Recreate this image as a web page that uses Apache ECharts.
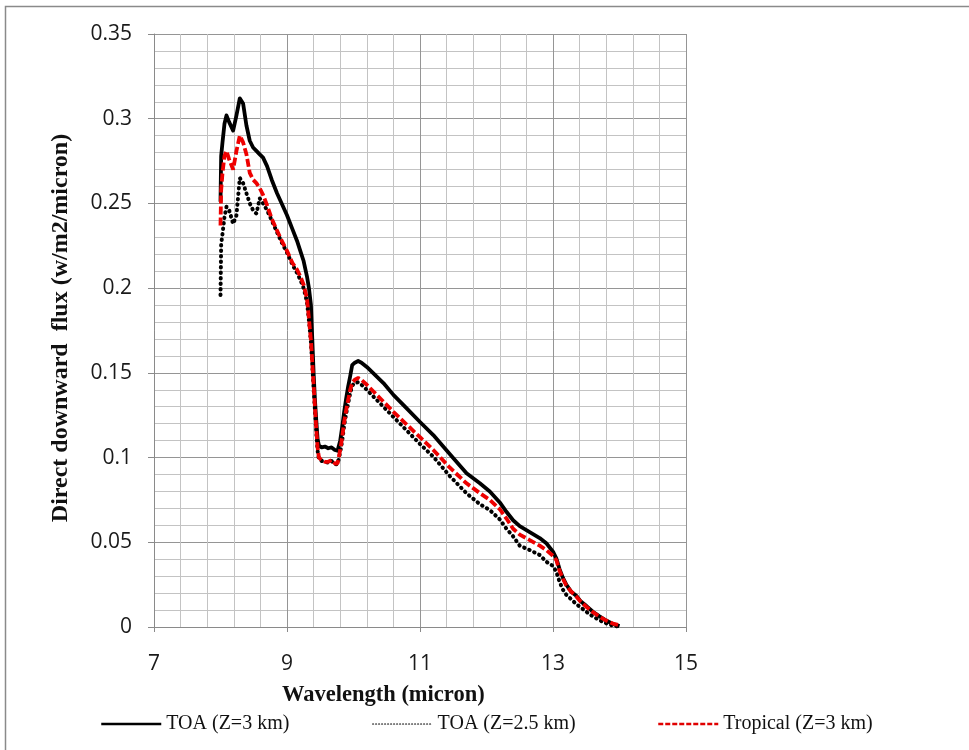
<!DOCTYPE html>
<html>
<head>
<meta charset="utf-8">
<script src="https://cdn.jsdelivr.net/npm/echarts@6/dist/echarts.min.js"></script>
<style>
  html, body { margin: 0; padding: 0; background: #ffffff; }
  #chart { width: 969px; height: 750px; }
</style>
</head>
<body>
<div id="chart"></div>
<script>
// Wavelength grid (micron)
const wavelength = [
  8.00, 8.01, 8.03, 8.06, 8.09, 8.13, 8.19, 8.24, 8.29, 8.34,
  8.39, 8.44, 8.49, 8.54, 8.59, 8.64, 8.70, 8.77, 8.85, 8.92,
  9.00, 9.08, 9.15, 9.20, 9.25, 9.30, 9.33, 9.36, 9.38, 9.40,
  9.42, 9.44, 9.46, 9.48, 9.52, 9.57, 9.62, 9.67, 9.72, 9.76,
  9.80, 9.83, 9.86, 9.89, 9.92, 9.95, 9.98, 10.02, 10.07, 10.12,
  10.20, 10.30, 10.45, 10.60, 10.80, 11.00, 11.20, 11.45, 11.70, 11.90,
  12.05, 12.20, 12.30, 12.40, 12.50, 12.65, 12.80, 12.90, 13.00, 13.05,
  13.10, 13.15, 13.20, 13.27, 13.35, 13.42, 13.50, 13.60, 13.70, 13.80,
  13.90, 14.00
];

// Direct downward flux (w/m2/micron), TOA, Z = 3 km
const fluxToa3 = [
  0.251, 0.278, 0.286, 0.297, 0.302, 0.298, 0.293, 0.302, 0.312, 0.309,
  0.296, 0.287, 0.283, 0.281, 0.279, 0.277, 0.272, 0.264, 0.256, 0.250,
  0.243, 0.235, 0.228, 0.222, 0.216, 0.207, 0.200, 0.190, 0.170, 0.150,
  0.134, 0.122, 0.111, 0.107, 0.106, 0.1065, 0.1055, 0.106, 0.1045, 0.104,
  0.110, 0.118, 0.127, 0.135, 0.142, 0.148, 0.1545, 0.156, 0.157, 0.156,
  0.1535, 0.1497, 0.144, 0.137, 0.129, 0.121, 0.1133, 0.102, 0.0907, 0.0848,
  0.080, 0.0735, 0.068, 0.063, 0.0595, 0.056, 0.0525, 0.0494, 0.0445, 0.0405,
  0.034, 0.029, 0.025, 0.021, 0.0185, 0.015, 0.0125, 0.009, 0.0063, 0.0038,
  0.0018, 0.0005
];

// TOA, Z = 2.5 km
const fluxToa25 = [
  0.196, 0.226, 0.232, 0.242, 0.248, 0.246, 0.238, 0.243, 0.265, 0.262,
  0.256, 0.250, 0.246, 0.244, 0.253, 0.250, 0.246, 0.240, 0.233, 0.227,
  0.221, 0.214, 0.209, 0.205, 0.200, 0.192, 0.181, 0.168, 0.155, 0.141,
  0.128, 0.115, 0.104, 0.099, 0.098, 0.0975, 0.097, 0.098, 0.096, 0.096,
  0.103, 0.110, 0.119, 0.126, 0.132, 0.138, 0.1425, 0.144, 0.1445, 0.143,
  0.140, 0.136, 0.130, 0.124, 0.116, 0.108, 0.1005, 0.089, 0.0789, 0.0725,
  0.069, 0.0635, 0.058, 0.0535, 0.048, 0.0454, 0.0425, 0.0385, 0.036, 0.0325,
  0.0265, 0.022, 0.019, 0.0165, 0.0135, 0.0115, 0.009, 0.0062, 0.004, 0.0022,
  0.0008, 0.0002
];

// Tropical, Z = 3 km
const fluxTropical3 = [
  0.237, 0.258, 0.268, 0.278, 0.281, 0.276, 0.270, 0.281, 0.290, 0.286,
  0.279, 0.268, 0.264, 0.262, 0.259, 0.255, 0.249, 0.241, 0.234, 0.228,
  0.222, 0.215, 0.211, 0.207, 0.202, 0.194, 0.182, 0.169, 0.156, 0.143,
  0.130, 0.117, 0.106, 0.100, 0.0985, 0.0975, 0.0975, 0.0985, 0.0965, 0.0965,
  0.1045, 0.112, 0.121, 0.128, 0.134, 0.140, 0.144, 0.146, 0.147, 0.1458,
  0.143, 0.139, 0.133, 0.127, 0.1195, 0.112, 0.1045, 0.094, 0.0848, 0.079,
  0.075, 0.0695, 0.064, 0.058, 0.0545, 0.0513, 0.048, 0.0454, 0.042, 0.0395,
  0.033, 0.0285, 0.0245, 0.021, 0.018, 0.0148, 0.012, 0.0088, 0.0061, 0.0038,
  0.002, 0.001
];

const seriesNames = ['TOA (Z=3 km)', 'TOA (Z=2.5 km)', 'Tropical (Z=3 km)'];
const xAxisTitle = 'Wavelength (micron)';
const yAxisTitle = 'Direct downward  flux (w/m2/micron)';

const pairs = (ys) => wavelength.map((w, i) => [w, ys[i]]);

const tickFont = { fontFamily: 'Open Sans', fontSize: 21, color: '#1a1a1a' };
const serif = 'Liberation Serif';

const chart = echarts.init(document.getElementById('chart'), null, { renderer: 'canvas' });

// One legend block per series so each entry sits at its own spot along the bottom;
// the marker symbol is made transparent so only the line sample shows.
function legendAt(left, name, lineStyle) {
  return {
    left: left, top: 714,
    orient: 'horizontal',
    padding: 0,
    data: [{ name: name }],
    itemWidth: 60, itemHeight: 14,
    selectedMode: false,
    lineStyle: lineStyle,
    itemStyle: { color: 'rgba(0,0,0,0)', borderColor: 'rgba(0,0,0,0)', borderWidth: 0, opacity: 0 },
    textStyle: { fontFamily: serif, fontSize: 20, color: '#111' }
  };
}

chart.setOption({
  animation: false,
  backgroundColor: '#ffffff',
  grid: { left: 154, top: 34, width: 532, height: 593, containLabel: false },
  xAxis: {
    type: 'value', min: 7, max: 15, interval: 2,
    axisLine: { show: true, lineStyle: { color: '#8a8a8a', width: 1 } },
    axisTick: { show: true, length: 5, lineStyle: { color: '#8a8a8a' } },
    axisLabel: Object.assign({ margin: 27 }, tickFont),
    splitLine: { show: true, lineStyle: { color: '#959595', width: 1 } },
    minorTick: { show: false, splitNumber: 5 },
    minorSplitLine: { show: true, lineStyle: { color: '#c3c3c3', width: 1 } }
  },
  yAxis: {
    type: 'value', min: 0, max: 0.35, interval: 0.05,
    axisLine: { show: true, lineStyle: { color: '#8a8a8a', width: 1 } },
    axisTick: { show: true, length: 6, lineStyle: { color: '#8a8a8a' } },
    axisLabel: Object.assign({ margin: 22 }, tickFont),
    splitLine: { show: true, lineStyle: { color: '#959595', width: 1 } },
    minorTick: { show: false, splitNumber: 5 },
    minorSplitLine: { show: true, lineStyle: { color: '#c3c3c3', width: 1 } }
  },
  legend: [
    legendAt(100, seriesNames[0], { color: '#000000', width: 2.5, type: 'solid' }),
    legendAt(372, seriesNames[1], { color: '#000000', width: 1.2, type: [1, 2] }),
    legendAt(657, seriesNames[2], { color: '#e00000', width: 2.5, type: [5, 2] })
  ],
  series: [
    {
      name: seriesNames[0], type: 'line', symbol: 'none',
      data: pairs(fluxToa3),
      lineStyle: { color: '#000000', width: 3.8, type: 'solid', join: 'round' },
      itemStyle: { color: '#000000' }
    },
    {
      name: seriesNames[1], type: 'line', symbol: 'none',
      data: pairs(fluxToa25),
      lineStyle: { color: '#000000', width: 4, type: [0.5, 5], cap: 'round' },
      itemStyle: { color: '#000000' }
    },
    {
      name: seriesNames[2], type: 'line', symbol: 'none',
      data: pairs(fluxTropical3),
      lineStyle: { color: '#ee0000', width: 3.8, type: [8, 3] },
      itemStyle: { color: '#ee0000' }
    }
  ],
  graphic: [
    {
      type: 'rect', silent: true, z: -1,
      shape: { x: 5.5, y: 6.5, width: 1100, height: 1000 },
      style: { fill: 'none', stroke: '#8a8a8a', lineWidth: 1.5 }
    },
    {
      type: 'text', left: 282, top: 684,
      style: { text: xAxisTitle, font: 'bold 22.5px "Liberation Serif"', fill: '#111' }
    },
    {
      type: 'text', x: 61, y: 328, rotation: Math.PI / 2,
      style: { text: yAxisTitle, font: 'bold 24px "Liberation Serif"', fill: '#111',
               align: 'center', verticalAlign: 'middle' }
    }
  ]
});
</script>
</body>
</html>
